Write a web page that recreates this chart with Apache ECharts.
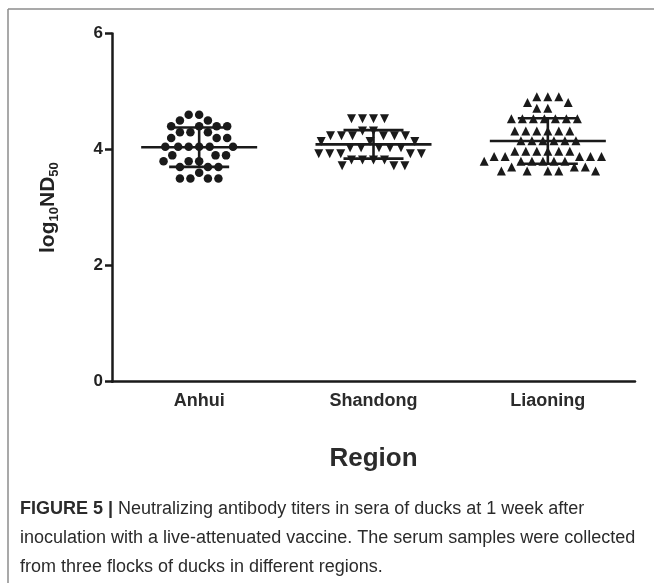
<!DOCTYPE html>
<html><head><meta charset="utf-8">
<script src="https://cdn.jsdelivr.net/npm/echarts@6/dist/echarts.min.js"></script>
<style>html,body{margin:0;padding:0;background:#fff}#c{width:654px;height:583px}</style>
</head><body><div id="c"></div>
<script>
const categories = ['Anhui', 'Shandong', 'Liaoning'];
const yTicks = [0, 2, 4, 6];
const anhui = [4.6, 4.6, 4.5, 4.5, 4.4, 4.4, 4.4, 4.4, 4.3, 4.3, 4.3, 4.2, 4.2, 4.2,
  4.05, 4.05, 4.05, 4.05, 4.05, 4.05, 3.9, 3.9, 3.9, 3.8, 3.8, 3.8, 3.7, 3.7, 3.7, 3.6,
  3.5, 3.5, 3.5, 3.5];
const shandong = [4.53, 4.53, 4.53, 4.53, 4.32, 4.32, 4.24, 4.24, 4.24, 4.24, 4.24, 4.24,
  4.14, 4.14, 4.14, 4.03, 4.03, 4.03, 4.03, 4.03, 3.93, 3.93, 3.93, 3.93, 3.93,
  3.82, 3.82, 3.82, 3.82, 3.72, 3.72, 3.72];
const liaoning = [4.91, 4.91, 4.91, 4.81, 4.81, 4.71, 4.71, 4.53, 4.53, 4.53, 4.53, 4.53, 4.53, 4.53,
  4.32, 4.32, 4.32, 4.32, 4.32, 4.32, 4.15, 4.15, 4.15, 4.15, 4.15, 4.15,
  3.97, 3.97, 3.97, 3.97, 3.97, 3.97, 3.88, 3.88, 3.88, 3.88, 3.88,
  3.80, 3.80, 3.80, 3.80, 3.80, 3.80, 3.70, 3.70, 3.70, 3.63, 3.63, 3.63, 3.63, 3.63];
const groups = [anhui, shandong, liaoning];
const xName = 'Region';
const captionBold = 'FIGURE 5 |';
const captionLines = [
  ' Neutralizing antibody titers in sera of ducks at 1 week after',
  'inoculation with a live-attenuated vaccine. The serum samples were collected',
  'from three flocks of ducks in different regions.'
];

function meanSd(a) {
  const m = a.reduce((s, v) => s + v, 0) / a.length;
  const sd = Math.sqrt(a.reduce((s, v) => s + (v - m) * (v - m), 0) / (a.length - 1));
  return [m, sd];
}
const stats = groups.map((g, i) => { const r = meanSd(g); return [i, r[0], r[1]]; });

const ink = '#1a1a1a';
const font = "'Liberation Sans', Arial, sans-serif";
const symbols = [
  { symbol: 'circle', size: 8.5, rotate: 0 },
  { symbol: 'triangle', size: 9, rotate: 180 },
  { symbol: 'triangle', size: 9, rotate: 0 }
];

const chart = echarts.init(document.getElementById('c'), null, { renderer: 'canvas' });
const scatterSeries = groups.map((g, i) => ({
  type: 'scatter',
  name: categories[i],
  data: g.map(v => [categories[i], v]),
  symbol: symbols[i].symbol,
  symbolSize: symbols[i].size,
  symbolRotate: symbols[i].rotate,
  itemStyle: { color: ink, opacity: 1 },
  z: 2,
  silent: true
}));

const graphic = [
  { type: 'line', shape: { x1: 8, y1: 9, x2: 654, y2: 9 }, style: { stroke: '#8c8c8c', lineWidth: 1.5 } },
  { type: 'line', shape: { x1: 8, y1: 9, x2: 8, y2: 583 }, style: { stroke: '#8c8c8c', lineWidth: 1.5 } }
];
const capY = [509, 538, 567];
captionLines.forEach((t, i) => {
  graphic.push({
    type: 'text', x: 20, y: capY[i],
    style: {
      text: (i === 0 ? '{b|' + captionBold + '}' : '') + '{r|' + t + '}',
      verticalAlign: 'middle',
      rich: {
        b: { fontFamily: font, fontSize: 18, fontWeight: 'bold', fill: '#2b2b2b' },
        r: { fontFamily: font, fontSize: 18, fill: '#2b2b2b' }
      }
    }
  });
});

chart.setOption({
  backgroundColor: '#fff',
  animation: false,
  textStyle: { fontFamily: font },
  grid: { left: 112, right: 19, top: 33.5, bottom: 201.3, outerBoundsMode: 'none' },
  xAxis: {
    type: 'category',
    data: categories,
    jitter: 160,
    jitterOverlap: false,
    jitterMargin: 2,
    axisLine: { lineStyle: { color: ink, width: 2.5 } },
    axisTick: { alignWithLabel: true, length: 6, lineStyle: { color: ink, width: 2.5 } },
    axisLabel: { fontSize: 18, fontWeight: 'bold', color: '#2b2b2b', margin: 10, fontFamily: font },
    splitLine: { show: false },
    name: xName,
    nameLocation: 'middle',
    nameGap: 64,
    nameTextStyle: { fontSize: 26, fontWeight: 'bold', color: '#2b2b2b', fontFamily: font }
  },
  yAxis: {
    type: 'value',
    min: yTicks[0], max: yTicks[yTicks.length - 1], interval: 2,
    axisLine: { show: true, lineStyle: { color: ink, width: 2.5 } },
    axisTick: { show: true, length: 7, lineStyle: { color: ink, width: 2.5 } },
    axisLabel: { fontSize: 17, fontWeight: 'bold', color: '#222', margin: 9, fontFamily: font },
    splitLine: { show: false },
    name: '{a|log}{s|10}{a|ND}{s|50}',
    nameLocation: 'middle',
    nameGap: 51,
    nameTextStyle: {
      rich: {
        a: { fontSize: 21, fontWeight: 'bold', color: '#222', lineHeight: 26, fontFamily: font },
        s: { fontSize: 13, fontWeight: 'bold', color: '#222', lineHeight: 13, verticalAlign: 'bottom', fontFamily: font }
      }
    }
  },
  graphic: graphic,
  series: scatterSeries.concat([{
    type: 'custom',
    data: stats,
    encode: { x: 0, y: 1 },
    z: 3,
    silent: true,
    renderItem: function (params, api) {
      const i = api.value(0), m = api.value(1), s = api.value(2);
      const c = api.coord([i, m]);
      const top = api.coord([i, m + s])[1];
      const bot = api.coord([i, m - s])[1];
      const st = { stroke: ink, lineWidth: 2.6 };
      return {
        type: 'group', children: [
          { type: 'line', shape: { x1: c[0] - 58, y1: c[1], x2: c[0] + 58, y2: c[1] }, style: st },
          { type: 'line', shape: { x1: c[0] - 30, y1: top, x2: c[0] + 30, y2: top }, style: st },
          { type: 'line', shape: { x1: c[0] - 30, y1: bot, x2: c[0] + 30, y2: bot }, style: st },
          { type: 'line', shape: { x1: c[0], y1: top, x2: c[0], y2: bot }, style: st }
        ]
      };
    }
  }])
});
</script></body></html>
